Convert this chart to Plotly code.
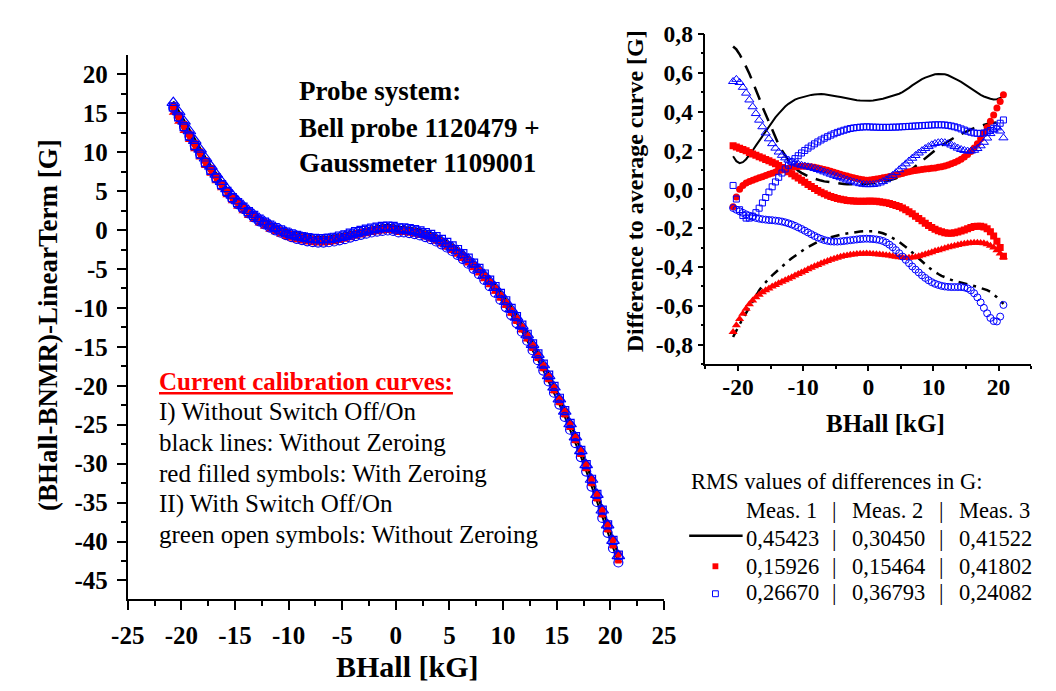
import plotly.graph_objects as go

# ---------------- data ----------------
BHALL_KG = [-20.75, -20.25, -19.75, -19.25, -18.75, -18.25, -17.75, -17.25, -16.75, -16.25,
            -15.75, -15.25, -14.75, -14.25, -13.75, -13.25, -12.75, -12.25, -11.75, -11.25,
            -10.75, -10.25, -9.75, -9.25, -8.75, -8.25, -7.75, -7.25, -6.75, -6.25,
            -5.75, -5.25, -4.75, -4.25, -3.75, -3.25, -2.75, -2.25, -1.75, -1.25, -0.75, -0.25,
            0.25, 0.75, 1.25, 1.75, 2.25, 2.75, 3.25, 3.75, 4.25, 4.75,
            5.25, 5.75, 6.25, 6.75, 7.25, 7.75, 8.25, 8.75, 9.25, 9.75,
            10.25, 10.75, 11.25, 11.75, 12.25, 12.75, 13.25, 13.75, 14.25, 14.75,
            15.25, 15.75, 16.25, 16.75, 17.25, 17.75, 18.25, 18.75, 19.25, 19.75, 20.25, 20.75]

# average calibration curve (BHall-BNMR)-LinearTerm [G]
AVG_CURVE_G = [15.8, 14.6, 13.4, 12.2, 11.0, 9.9, 8.8, 7.8, 6.8, 5.9,
               5.0, 4.2, 3.5, 2.9, 2.3, 1.8, 1.3, 0.9, 0.5, 0.15,
               -0.15, -0.45, -0.7, -0.9, -1.05, -1.2, -1.3, -1.35, -1.35, -1.3,
               -1.2, -1.05, -0.9, -0.7, -0.5, -0.35, -0.2, -0.05, 0.05, 0.15, 0.2, 0.15,
               -0.05, -0.05, -0.13, -0.25, -0.42, -0.63, -0.88, -1.17, -1.52, -1.91,
               -2.34, -2.82, -3.35, -3.93, -4.56, -5.24, -5.97, -6.75, -7.58, -8.47,
               -9.41, -10.4, -11.45, -12.55, -13.71, -14.93, -16.21, -17.54, -18.94, -20.39,
               -21.9, -23.48, -25.11, -26.81, -28.57, -30.41, -32.3, -34.26, -36.29, -38.2, -40.2, -42.1]

# differences to the average curve [G]
LINE_SOLID = [0.17, 0.145, 0.135, 0.14, 0.155, 0.175, 0.2, 0.225, 0.25, 0.275, 0.3, 0.325, 0.35, 0.37,
              0.39, 0.41, 0.426, 0.44, 0.452, 0.462, 0.468, 0.473, 0.478, 0.482, 0.486, 0.488, 0.49, 0.49,
              0.489, 0.487, 0.484, 0.481, 0.478, 0.475, 0.471, 0.467, 0.463, 0.46, 0.458, 0.457, 0.456, 0.456,
              0.456, 0.457, 0.459, 0.462, 0.466, 0.471, 0.476, 0.481, 0.485, 0.492, 0.5, 0.51, 0.522, 0.535,
              0.547, 0.558, 0.567, 0.575, 0.582, 0.588, 0.592, 0.594, 0.594, 0.592, 0.587, 0.58, 0.571, 0.562,
              0.553, 0.542, 0.53, 0.518, 0.506, 0.495, 0.486, 0.478, 0.471, 0.466, 0.463, 0.464, 0.47, 0.48]
LINE_DASH = [0.735, 0.72, 0.695, 0.665, 0.63, 0.595, 0.555, 0.515, 0.47, 0.425, 0.385, 0.345, 0.305, 0.265,
             0.23, 0.2, 0.172, 0.148, 0.128, 0.11, 0.096, 0.085, 0.075, 0.067, 0.06, 0.054, 0.049, 0.045,
             0.041, 0.038, 0.035, 0.032, 0.03, 0.028, 0.027, 0.026, 0.025, 0.025, 0.025, 0.026, 0.027, 0.028,
             0.029, 0.03, 0.032, 0.034, 0.037, 0.041, 0.046, 0.051, 0.057, 0.064, 0.072, 0.081, 0.092, 0.104,
             0.118, 0.132, 0.146, 0.16, 0.175, 0.189, 0.202, 0.214, 0.226, 0.237, 0.248, 0.258, 0.267, 0.276,
             0.285, 0.293, 0.301, 0.308, 0.315, 0.321, 0.327, 0.332, 0.337, 0.34, 0.343, 0.345, 0.346, 0.347]
LINE_DASHDOT = [-0.76, -0.725, -0.695, -0.665, -0.635, -0.605, -0.575, -0.545, -0.52, -0.497, -0.477, -0.46,
                -0.443, -0.427, -0.412, -0.397, -0.382, -0.368, -0.355, -0.342, -0.33, -0.318, -0.307, -0.297,
                -0.287, -0.277, -0.268, -0.261, -0.255, -0.25, -0.246, -0.242, -0.238, -0.234, -0.23, -0.227,
                -0.224, -0.221, -0.219, -0.217, -0.216, -0.215,
                -0.215, -0.216, -0.218, -0.221, -0.226, -0.233, -0.241, -0.25, -0.26, -0.271, -0.283, -0.296,
                -0.31, -0.325, -0.341, -0.357, -0.372, -0.387, -0.401, -0.414, -0.426, -0.436, -0.445, -0.453,
                -0.46, -0.466, -0.472, -0.477, -0.482, -0.486, -0.49, -0.494, -0.498, -0.502, -0.507, -0.512,
                -0.519, -0.528, -0.54, -0.555, -0.572, -0.59]
RED_SQUARES = [0.224, 0.218, 0.212, 0.205, 0.198, 0.19, 0.182, 0.175, 0.168, 0.161, 0.154, 0.147, 0.139, 0.131,
               0.122, 0.112, 0.102, 0.091, 0.08, 0.069, 0.058, 0.047, 0.036, 0.025, 0.014, 0.004, -0.006, -0.015,
               -0.023, -0.03, -0.037, -0.042, -0.047, -0.051, -0.054, -0.057, -0.059, -0.06, -0.061, -0.062,
               -0.062, -0.062,
               -0.06, -0.061, -0.062, -0.064, -0.066, -0.069, -0.073, -0.078, -0.083, -0.089, -0.096, -0.105,
               -0.115, -0.126, -0.138, -0.15, -0.162, -0.174, -0.186, -0.196, -0.205, -0.213, -0.219, -0.224,
               -0.226, -0.226, -0.224, -0.22, -0.215, -0.209, -0.203, -0.197, -0.192, -0.19, -0.19, -0.194,
               -0.203, -0.218, -0.24, -0.267, -0.3, -0.345]
RED_CIRCLES = [-0.09, -0.04, 0.0, 0.02, 0.032, 0.04, 0.047, 0.053, 0.059, 0.065, 0.071, 0.077, 0.083, 0.089,
               0.095, 0.1, 0.105, 0.109, 0.113, 0.116, 0.118, 0.119, 0.119, 0.118, 0.116, 0.113, 0.11, 0.106,
               0.102, 0.098, 0.093, 0.088, 0.083, 0.078, 0.073, 0.068, 0.064, 0.06, 0.056, 0.052, 0.049, 0.047,
               0.048, 0.05, 0.053, 0.056, 0.059, 0.062, 0.066, 0.07, 0.074, 0.078, 0.082, 0.086, 0.09, 0.094,
               0.097, 0.1, 0.102, 0.104, 0.106, 0.108, 0.11, 0.113, 0.116, 0.12, 0.125, 0.131, 0.138, 0.146,
               0.155, 0.166, 0.179, 0.195, 0.213, 0.235, 0.26, 0.288, 0.318, 0.35, 0.383, 0.418, 0.452, 0.487]
RED_TRIANGLES = [-0.735, -0.7, -0.668, -0.64, -0.615, -0.592, -0.572, -0.556, -0.542, -0.53, -0.52, -0.51,
                 -0.5, -0.492, -0.484, -0.476, -0.468, -0.46, -0.452, -0.444, -0.436, -0.428, -0.42, -0.412,
                 -0.404, -0.396, -0.389, -0.382, -0.375, -0.369, -0.363, -0.357, -0.352, -0.347, -0.343, -0.34,
                 -0.337, -0.335, -0.333, -0.332, -0.331, -0.33,
                 -0.332, -0.333, -0.334, -0.335, -0.337, -0.339, -0.341, -0.344, -0.347, -0.349, -0.351, -0.352,
                 -0.352, -0.351, -0.348, -0.344, -0.339, -0.334, -0.329, -0.324, -0.318, -0.313, -0.308, -0.303,
                 -0.298, -0.294, -0.29, -0.286, -0.283, -0.28, -0.278, -0.276, -0.275, -0.275, -0.276, -0.278,
                 -0.283, -0.29, -0.3, -0.313, -0.33, -0.35]
BLUE_TRIANGLES = [0.555, 0.566, 0.55, 0.525, 0.495, 0.46, 0.425, 0.39, 0.356, 0.322, 0.29, 0.26, 0.235, 0.212,
                  0.192, 0.175, 0.162, 0.151, 0.142, 0.135, 0.129, 0.124, 0.12, 0.116, 0.112, 0.107, 0.102, 0.096,
                  0.09, 0.084, 0.078, 0.072, 0.066, 0.06, 0.054, 0.048, 0.043, 0.038, 0.033, 0.029, 0.026, 0.024,
                  0.024, 0.025, 0.028, 0.033, 0.04, 0.049, 0.06, 0.072, 0.086, 0.101, 0.116, 0.131, 0.146, 0.16,
                  0.174, 0.187, 0.199, 0.21, 0.22, 0.229, 0.236, 0.24, 0.242, 0.24, 0.235, 0.228, 0.22, 0.212,
                  0.205, 0.2, 0.197, 0.197, 0.201, 0.21, 0.224, 0.242, 0.264, 0.287, 0.305, 0.316, 0.3, 0.265]
BLUE_SQUARES = [0.02, -0.05, -0.105, -0.135, -0.148, -0.148, -0.138, -0.12, -0.097, -0.07, -0.042, -0.014,
                0.013, 0.038, 0.062, 0.084, 0.105, 0.124, 0.142, 0.158, 0.173, 0.187, 0.2, 0.212, 0.223, 0.234,
                0.244, 0.254, 0.263, 0.271, 0.279, 0.286, 0.293, 0.299, 0.304, 0.309, 0.313, 0.316, 0.318, 0.32,
                0.321, 0.322,
                0.321, 0.32, 0.32, 0.319, 0.319, 0.319, 0.319, 0.32, 0.32, 0.321, 0.322, 0.323, 0.324, 0.325,
                0.326, 0.327, 0.328, 0.329, 0.33, 0.331, 0.332, 0.332, 0.332, 0.331, 0.329, 0.326, 0.322, 0.317,
                0.311, 0.305, 0.299, 0.294, 0.29, 0.288, 0.288, 0.29, 0.295, 0.303, 0.314, 0.326, 0.34, 0.357]
BLUE_CIRCLES = [-0.096, -0.105, -0.113, -0.121, -0.129, -0.136, -0.142, -0.147, -0.151, -0.154, -0.156, -0.158,
                -0.159, -0.161, -0.163, -0.166, -0.17, -0.175, -0.181, -0.188, -0.196, -0.204, -0.213, -0.222,
                -0.231, -0.24, -0.248, -0.255, -0.261, -0.265, -0.268, -0.269, -0.269, -0.268, -0.266, -0.264,
                -0.262, -0.26, -0.258, -0.256, -0.255, -0.254,
                -0.255, -0.256, -0.258, -0.261, -0.266, -0.274, -0.285, -0.298, -0.313, -0.329, -0.346, -0.363,
                -0.38, -0.397, -0.413, -0.428, -0.443, -0.456, -0.468, -0.478, -0.486, -0.492, -0.497, -0.5,
                -0.502, -0.503, -0.503, -0.503, -0.503, -0.505, -0.51, -0.52, -0.535, -0.556, -0.582, -0.61,
                -0.638, -0.662, -0.678, -0.68, -0.655, -0.595]

RMS_HEADERS = ["Meas. 1", "Meas. 2", "Meas. 3"]
RMS_LINES = [0.45423, 0.30450, 0.41522]
RMS_RED = [0.15926, 0.15464, 0.41802]
RMS_BLUE = [0.26670, 0.36793, 0.24082]

MAIN_X_TICKS = [-25, -20, -15, -10, -5, 0, 5, 10, 15, 20, 25]
MAIN_X_MINOR = [-22.5, -17.5, -12.5, -7.5, -2.5, 2.5, 7.5, 12.5, 17.5, 22.5]
MAIN_Y_TICKS = [-45, -40, -35, -30, -25, -20, -15, -10, -5, 0, 5, 10, 15, 20]
MAIN_Y_MINOR = [-47.5, -42.5, -37.5, -32.5, -27.5, -22.5, -17.5, -12.5, -7.5, -2.5, 2.5, 7.5, 12.5, 17.5]
INS_X_TICKS = [-20, -10, 0, 10, 20]
INS_X_MINOR = [-25, -15, -5, 5, 15, 25]
INS_Y_TICKS = [-0.8, -0.6, -0.4, -0.2, 0.0, 0.2, 0.4, 0.6, 0.8]
INS_Y_LABELS = ["-0,8", "-0,6", "-0,4", "-0,2", "0,0", "0,2", "0,4", "0,6", "0,8"]
INS_Y_MINOR = [-0.9, -0.7, -0.5, -0.3, -0.1, 0.1, 0.3, 0.5, 0.7]

for s in [AVG_CURVE_G, LINE_SOLID, LINE_DASH, LINE_DASHDOT, RED_SQUARES, RED_CIRCLES, RED_TRIANGLES,
          BLUE_TRIANGLES, BLUE_SQUARES, BLUE_CIRCLES]:
    assert len(s) == len(BHALL_KG), len(s)

# ---------------- figure ----------------
# the page keeps the browser's default 8px body margin, so the figure is drawn
# 8px smaller and every position below is given in window pixels minus that offset
PAGE_OFF = 8
W, H = 1056 - PAGE_OFF, 691 - PAGE_OFF
FONT = "Liberation Serif"
RED = "#FF0000"
BLUE = "#0000FF"


def px(x):
    return (x - PAGE_OFF) / W


def py(y):
    return 1 - (y - PAGE_OFF) / H


def main_of(diff):
    return [a + d for a, d in zip(AVG_CURVE_G, diff)]


fig = go.Figure()

lines = [(LINE_SOLID, "solid", 2.0), (LINE_DASH, "14px,9px", 2.5), (LINE_DASHDOT, "9px,6px,3px,6px", 2.5)]
reds = [(RED_SQUARES, "square", 7, 6), (RED_CIRCLES, "circle", 7, 7), (RED_TRIANGLES, "triangle-up", 8, 8)]
blues = [(BLUE_SQUARES, "square-open", 6, 8), (BLUE_CIRCLES, "circle-open", 7, 9),
         (BLUE_TRIANGLES, "triangle-up-open", 8, 11)]

# main plot
for d, dash, w in lines:
    fig.add_trace(go.Scatter(x=BHALL_KG, y=main_of(d), mode="lines", line=dict(color="black", width=2, dash="solid"),
                             xaxis="x", yaxis="y", showlegend=False, hoverinfo="skip"))
for d, sym, s_in, s_main in reds:
    fig.add_trace(go.Scatter(x=BHALL_KG, y=main_of(d), mode="markers",
                             marker=dict(symbol=sym, size=s_main, color=RED, line=dict(width=0)),
                             xaxis="x", yaxis="y", showlegend=False))
for d, sym, s_in, s_main in blues:
    fig.add_trace(go.Scatter(x=BHALL_KG, y=main_of(d), mode="markers",
                             marker=dict(symbol=sym, size=s_main, color=BLUE, line=dict(width=1.2, color=BLUE)),
                             xaxis="x", yaxis="y", showlegend=False))

# inset
for d, dash, w in lines:
    fig.add_trace(go.Scatter(x=BHALL_KG, y=d, mode="lines", line=dict(color="black", width=w, dash=dash),
                             xaxis="x2", yaxis="y2", showlegend=False))
for d, sym, s_in, s_main in reds:
    fig.add_trace(go.Scatter(x=BHALL_KG, y=d, mode="markers",
                             marker=dict(symbol=sym, size=s_in, color=RED, line=dict(width=0)),
                             xaxis="x2", yaxis="y2", showlegend=False))
for d, sym, s_in, s_main in blues:
    fig.add_trace(go.Scatter(x=BHALL_KG, y=d, mode="markers",
                             marker=dict(symbol=sym, size=s_in, color=BLUE, line=dict(width=1, color=BLUE)),
                             xaxis="x2", yaxis="y2", showlegend=False))

tickfont_main = dict(family=FONT, size=25, color="black", weight="bold")
tickfont_ins = dict(family=FONT, size=23.5, color="black", weight="bold")

axis_common = dict(showgrid=False, zeroline=False, showline=True, linecolor="black", ticks="outside",
                   tickcolor="black", mirror=False)

fig.update_layout(
    width=W, height=H, autosize=False,
    margin=dict(l=0, r=0, t=0, b=0),
    paper_bgcolor="white", plot_bgcolor="rgba(0,0,0,0)",
    showlegend=False,
    xaxis=dict(domain=[px(122), px(674)], range=[-25, 25], anchor="y",
               tickmode="array", tickvals=MAIN_X_TICKS, ticktext=[str(v) for v in MAIN_X_TICKS],
               linewidth=2, ticklen=9, tickwidth=2, tickfont=tickfont_main, ticklabelstandoff=4,
               minor=dict(ticks="outside", tickvals=MAIN_X_MINOR, ticklen=5, tickwidth=2, tickcolor="black"),
               **axis_common),
    yaxis=dict(domain=[py(605.5), py(50.7)], range=[-47.4, 22.5], anchor="x",
               tickmode="array", tickvals=MAIN_Y_TICKS, ticktext=[str(v) for v in MAIN_Y_TICKS],
               linewidth=2, ticklen=9, tickwidth=2, tickfont=tickfont_main, ticklabelstandoff=4,
               minor=dict(ticks="outside", tickvals=MAIN_Y_MINOR, ticklen=5, tickwidth=2, tickcolor="black"),
               **axis_common),
    xaxis2=dict(domain=[px(716.7), px(1052)], range=[-25, 25], anchor="y2",
                tickmode="array", tickvals=INS_X_TICKS, ticktext=[str(v) for v in INS_X_TICKS],
                linewidth=1.5, ticklen=5, tickwidth=1.5, tickfont=tickfont_ins, ticklabelstandoff=-4,
                minor=dict(ticks="outside", tickvals=INS_X_MINOR, ticklen=3, tickwidth=1.5, tickcolor="black"),
                **axis_common),
    yaxis2=dict(domain=[py(366), py(29.3)], range=[-0.9, 0.8], anchor="x2",
                tickmode="array", tickvals=INS_Y_TICKS, ticktext=INS_Y_LABELS,
                linewidth=1.5, ticklen=6, tickwidth=1.5, tickfont=tickfont_ins, ticklabelstandoff=0,
                minor=dict(ticks="outside", tickvals=INS_Y_MINOR, ticklen=3, tickwidth=1.5, tickcolor="black"),
                **axis_common),
)

ann = []


def text(x, y, s, size, bold=False, color="black", xanchor="left", angle=0):
    ann.append(dict(x=px(x), y=py(y), xref="paper", yref="paper", text=s, showarrow=False,
                    xanchor=xanchor, yanchor="middle", textangle=angle,
                    align=xanchor if xanchor != "center" else "center",
                    font=dict(family=FONT, size=size, color=color, weight="bold" if bold else "normal")))


# axis titles
text(410, 674, "BHall [kG]", 30, bold=True, xanchor="center")
text(40, 326, "(BHall-BNMR)-LinearTerm [G]", 27, bold=True, xanchor="center", angle=-90)
text(902, 426, "BHall [kG]", 25, bold=True, xanchor="center")
text(644, 190, "Difference to average curve [G]", 24, bold=True, xanchor="center", angle=-90)

# probe system text
text(296, 88, "Probe system:", 27, bold=True)
text(296, 125, "Bell probe 1120479 +", 27, bold=True)
text(296, 161, "Gaussmeter 1109001", 27, bold=True)

# description
text(152, 384, "<u>Current calibration curves:</u>", 25, bold=True, color=RED)
desc = ["I) Without Switch Off/On", "black lines: Without Zeroing", "red filled symbols: With Zeroing",
        "II) With Switch Off/On", "green open symbols: Without Zeroing"]
for i, line in enumerate(desc):
    text(152, 414.5 + i * 31.4, line, 25)

# RMS table
text(700, 486, "RMS values of differences in G:", 22.5)
rows = [RMS_HEADERS,
        [f"{v:.5f}".replace(".", ",") for v in RMS_LINES],
        [f"{v:.5f}".replace(".", ",") for v in RMS_RED],
        [f"{v:.5f}".replace(".", ",") for v in RMS_BLUE]]
row_y = [515, 544, 572, 599]
col_x = [756, 866, 976]
sep_x = [850, 960]
for r, yv in zip(rows, row_y):
    for c, xv in zip(r, col_x):
        text(xv, yv, c, 22.5)
    for sx in sep_x:
        text(sx, yv, "|", 22.5, xanchor="center")

fig.update_layout(annotations=ann)

# legend keys for the RMS table
fig.add_shape(type="line", xref="paper", yref="paper", x0=px(700), x1=px(755), y0=py(541), y1=py(541),
              line=dict(color="black", width=2.5))
fig.add_shape(type="rect", xref="paper", yref="paper", x0=px(724), x1=px(730), y0=py(575), y1=py(569),
              line=dict(width=0), fillcolor=RED)
fig.add_shape(type="rect", xref="paper", yref="paper", x0=px(724), x1=px(730), y0=py(603), y1=py(597),
              line=dict(width=1, color=BLUE), fillcolor="white")

fig.write_html("out.html")
